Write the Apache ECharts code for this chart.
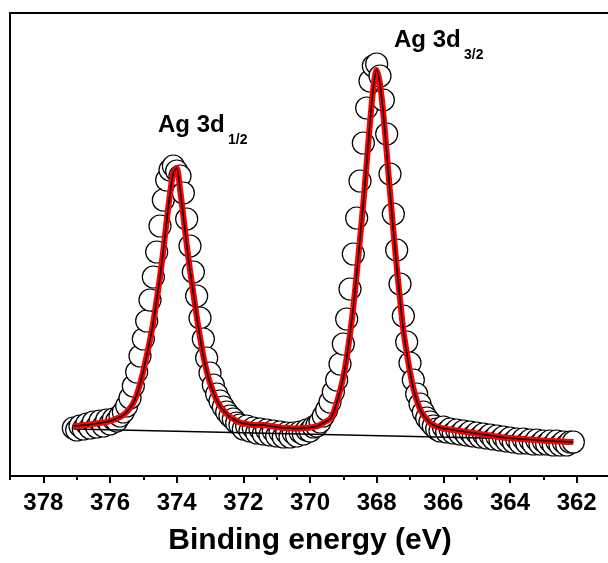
<!DOCTYPE html>
<html><head><meta charset="utf-8">
<script src="https://cdn.jsdelivr.net/npm/echarts@6/dist/echarts.min.js"></script>
<style>html,body{margin:0;padding:0;background:#fff}#c{width:608px;height:563px}</style>
</head><body><div id="c"></div>
<script>
// Binding energy (eV), 0.1 eV steps, high to low
const energy = [
377.1,377.0,376.9,376.8,376.7,376.6,376.5,376.4,376.3,376.2,
376.1,376.0,375.9,375.8,375.7,375.6,375.5,375.4,375.3,375.2,
375.1,375.0,374.9,374.8,374.7,374.6,374.5,374.4,374.3,374.2,
374.1,374.0,373.9,373.8,373.7,373.6,373.5,373.4,373.3,373.2,
373.1,373.0,372.9,372.8,372.7,372.6,372.5,372.4,372.3,372.2,
372.1,372.0,371.9,371.8,371.7,371.6,371.5,371.4,371.3,371.2,
371.1,371.0,370.9,370.8,370.7,370.6,370.5,370.4,370.3,370.2,
370.1,370.0,369.9,369.8,369.7,369.6,369.5,369.4,369.3,369.2,
369.1,369.0,368.9,368.8,368.7,368.6,368.5,368.4,368.3,368.2,
368.1,368.0,367.9,367.8,367.7,367.6,367.5,367.4,367.3,367.2,
367.1,367.0,366.9,366.8,366.7,366.6,366.5,366.4,366.3,366.2,
366.1,366.0,365.9,365.8,365.7,365.6,365.5,365.4,365.3,365.2,
365.1,365.0,364.9,364.8,364.7,364.6,364.5,364.4,364.3,364.2,
364.1,364.0,363.9,363.8,363.7,363.6,363.5,363.4,363.3,363.2,
363.1,363.0,362.9,362.8,362.7,362.6,362.5,362.4,362.3,362.2,
362.1
];
// Measured intensity (a.u.)
const measured = [
48,46,50,47,52,48,54,49,55,50,
56,52,57,55,60,64,70,78,90,104,
120,137,155,176,199,224,250,276,296,306,
310,305,300,283,257,230,204,180,158,137,
118,103,91,82,75,69,64,60,57,53,
51,47,50,45,48,43,47,42,46,41,
45,40,44,39,43,39,43,40,44,42,
46,45,49,50,54,60,66,74,84,96,
112,132,157,187,222,258,295,333,368,395,
410,412,400,376,342,302,262,226,192,160,
134,113,96,82,72,64,58,54,50,47,
45,49,44,47,43,46,42,45,41,44,
40,43,39,42,38,41,37,40,36,39,
35,38,34,37,33,37,33,36,32,36,
32,35,32,35,31,35,31,34,31,34,
34
];
// Fitted envelope (a.u.)
const fitted = [
50,50,50.5,51,51,51.5,52,52.5,53,53.5,
54,55,56,57.5,59,61,64,68,73,81,
92,105,120,136,154,176,199,226,255,282,
303,308,287,260,232,206,183,160,139,120,
105,93,84,76,70,66,62,59,57,55,
53.5,52.5,52,51.5,51,51,51,51,50.5,50,
49.5,49,48.5,48,48,48,47.5,47.5,47.5,48,
48,48.5,49,49.5,51,53,55,57,63,73,
85,99,118,142,169,202,237,273,313,353,
388,406,392,362,324,284,246,210,177,146,
124,104,88,76,67,61,57,53,51,49.5,
48.5,47.5,47,46.5,46,45.5,45,44.5,44,43.5,
43,42.5,42,41.5,41,40.5,40,39.5,39,38.5,
38,38,37.5,37.5,37,37,36.5,36.5,36,36,
35.5,35.5,35,35,35,34.5,34.5,34.5,34,34,
34
];
// Linear background
const baselineEnergy = [377.1, 362.1];
const baselineValue = [47, 36];
const majorTicks = [378,376,374,372,370,368,366,364,362];
const minorTicks = [379,377,375,373,371,369,367,365,363];
const peakNames = ['Ag 3d', 'Ag 3d'];
const peakSubs = ['1/2', '3/2'];

const zip = (xs, ys) => xs.map((x, i) => [x, ys[i]]);
const FONT = '"Liberation Sans", Arial, sans-serif';

const chart = echarts.init(document.getElementById('c'), null, {renderer: 'canvas'});
chart.setOption({
  animation: false,
  backgroundColor: '#fff',
  grid: {left: 10, top: 13, width: 600, height: 463, show: true, borderColor: '#000', borderWidth: 2,
         backgroundColor: 'transparent', containLabel: false, outerBoundsMode: 'none'},
  xAxis: [{
    type: 'value', min: 361, max: 379, inverse: true, position: 'bottom',
    axisLine: {show: true, lineStyle: {color: '#000', width: 2}},
    axisTick: {show: true, inside: false, length: 7, lineStyle: {color: '#000', width: 2}, customValues: majorTicks},
    axisLabel: {show: true, customValues: majorTicks, color: '#000', fontFamily: FONT, fontWeight: 'bold', fontSize: 24, margin: 15},
    splitLine: {show: false},
    name: 'Binding energy (eV)', nameLocation: 'middle', nameGap: 50,
    nameTextStyle: {color: '#000', fontFamily: FONT, fontWeight: 'bold', fontSize: 30}
  }, {
    type: 'value', min: 361, max: 379, inverse: true, position: 'bottom',
    axisLine: {show: false},
    axisTick: {show: true, inside: false, length: 4, lineStyle: {color: '#000', width: 2}, customValues: minorTicks},
    axisLabel: {show: false},
    splitLine: {show: false}
  }],
  yAxis: {
    type: 'value', min: 0, max: 463,
    axisLine: {show: false}, axisTick: {show: false}, axisLabel: {show: false}, splitLine: {show: false}
  },
  series: [{
    type: 'scatter', data: zip(energy, measured), symbol: 'circle', symbolSize: 22,
    itemStyle: {color: '#fff', borderColor: '#000', borderWidth: 1.2, opacity: 1},
    z: 2
  }, {
    type: 'line', data: zip(baselineEnergy, baselineValue), symbol: 'none',
    lineStyle: {color: '#000', width: 1.5}, z: 3
  }, {
    type: 'line', data: zip(energy, fitted), symbol: 'none', smooth: 0.3,
    lineStyle: {color: '#f00', width: 6}, z: 4
  }, {
    type: 'line', data: zip(energy, fitted), symbol: 'none', smooth: 0.3,
    lineStyle: {color: '#000', width: 1.5}, z: 5
  }],
  graphic: [
    {type: 'text', left: 158, top: 113, style: {text: peakNames[0], font: 'bold 24px ' + FONT, fill: '#000'}},
    {type: 'text', left: 228, top: 133, style: {text: peakSubs[0], font: 'bold 14px ' + FONT, fill: '#000'}},
    {type: 'text', left: 394, top: 28, style: {text: peakNames[1], font: 'bold 24px ' + FONT, fill: '#000'}},
    {type: 'text', left: 464, top: 48, style: {text: peakSubs[1], font: 'bold 14px ' + FONT, fill: '#000'}}
  ]
});
</script>
</body></html>
